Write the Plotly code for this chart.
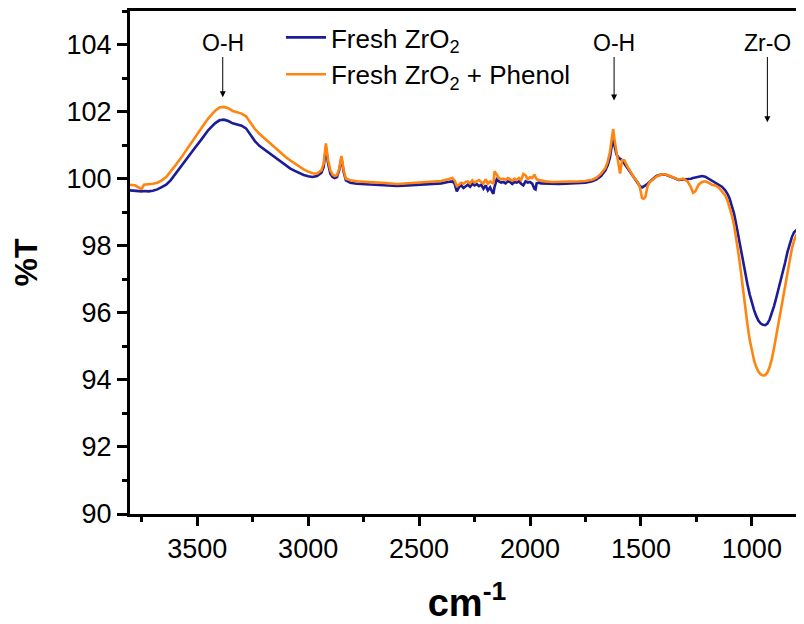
import plotly.graph_objects as go

wavenumber = [
    3803, 3780, 3760, 3750, 3740, 3720, 3700, 3680, 3660, 3640, 3620, 3600, 3570, 3540, 3510,
    3480, 3450, 3420, 3400, 3380, 3360, 3340, 3320, 3300, 3280, 3260, 3240, 3220, 3200, 3180,
    3160, 3140, 3120, 3100, 3080, 3060, 3040, 3020, 3000, 2980, 2960, 2940, 2930, 2920, 2910,
    2900, 2890, 2880, 2870, 2860, 2850, 2840, 2830, 2810, 2780, 2750, 2700, 2650, 2600, 2550,
    2500, 2450, 2400, 2370, 2350, 2340, 2330, 2320, 2310, 2300, 2290, 2280, 2270, 2260, 2250,
    2240, 2230, 2220, 2210, 2200, 2190, 2180, 2170, 2165, 2160, 2150, 2140, 2130, 2120, 2110,
    2100, 2090, 2080, 2070, 2060, 2050, 2040, 2030, 2020, 2010, 2000, 1990, 1980, 1975, 1970,
    1960, 1950, 1930, 1900, 1870, 1840, 1810, 1780, 1750, 1720, 1700, 1680, 1660, 1650, 1640,
    1630, 1625, 1620, 1610, 1600, 1594, 1585, 1575, 1560, 1545, 1530, 1515, 1505, 1495, 1488,
    1480, 1470, 1460, 1445, 1430, 1410, 1390, 1370, 1350, 1330, 1310, 1290, 1275, 1265, 1255,
    1240, 1225, 1210, 1195, 1180, 1165, 1150, 1135, 1120, 1110, 1100, 1090, 1080, 1070, 1060,
    1050, 1040, 1030, 1020, 1010, 1000, 990, 980, 970, 960, 950, 940, 930, 920, 910,
    900, 890, 880, 870, 860, 850, 840, 830, 820, 810, 800, 795, 790, 780, 770,
    765,
]

t_fresh = [
    99.65, 99.63, 99.62, 99.62, 99.63, 99.62, 99.64, 99.68, 99.75, 99.82, 99.95, 100.12, 100.38, 100.65, 100.92,
    101.18, 101.45, 101.65, 101.74, 101.76, 101.72, 101.65, 101.62, 101.58, 101.50, 101.32, 101.12, 100.98, 100.88, 100.78,
    100.68, 100.58, 100.48, 100.38, 100.30, 100.23, 100.16, 100.11, 100.07, 100.05, 100.08, 100.18, 100.35, 100.92, 100.45,
    100.15, 100.05, 100.02, 100.05, 100.25, 100.62, 100.20, 99.95, 99.88, 99.85, 99.84, 99.83, 99.80, 99.78, 99.80,
    99.82, 99.84, 99.86, 99.90, 99.92, 99.85, 99.62, 99.75, 99.80, 99.72, 99.78, 99.82, 99.76, 99.85, 99.80,
    99.84, 99.78, 99.82, 99.70, 99.80, 99.65, 99.74, 99.60, 99.55, 99.75, 99.98, 99.92, 99.88, 99.90, 99.86,
    99.92, 99.90, 99.84, 99.90, 99.88, 99.92, 99.85, 99.80, 99.92, 99.88, 99.90, 99.85, 99.70, 99.68, 99.86,
    99.88, 99.86, 99.85, 99.84, 99.84, 99.85, 99.86, 99.87, 99.88, 99.92, 99.98, 100.08, 100.25, 100.40, 100.62,
    101.05, 101.32, 101.00, 100.72, 100.62, 100.58, 100.55, 100.45, 100.30, 100.15, 100.00, 99.88, 99.78, 99.74, 99.76,
    99.80, 99.85, 99.92, 100.00, 100.08, 100.12, 100.12, 100.08, 100.02, 99.96, 99.97, 99.98, 100.00, 100.02, 100.04,
    100.06, 100.08, 100.06, 100.00, 99.92, 99.88, 99.82, 99.76, 99.65, 99.55, 99.40, 99.20, 98.95, 98.62, 98.25,
    97.85, 97.48, 97.15, 96.85, 96.55, 96.30, 96.08, 95.90, 95.76, 95.68, 95.64, 95.63, 95.68, 95.80, 95.98,
    96.20, 96.45, 96.70, 96.95, 97.22, 97.50, 97.80, 98.05, 98.25, 98.40, 98.46, 98.45, 98.42, 98.35, 98.28,
    98.24,
]

t_phenol = [
    99.82, 99.80, 99.72, 99.70, 99.82, 99.83, 99.85, 99.88, 99.95, 100.05, 100.20, 100.38, 100.65, 100.95, 101.25,
    101.52, 101.80, 102.02, 102.12, 102.14, 102.10, 102.02, 101.98, 101.94, 101.86, 101.68, 101.48, 101.34, 101.22, 101.10,
    101.00, 100.88, 100.76, 100.64, 100.54, 100.45, 100.36, 100.28, 100.21, 100.16, 100.15, 100.25, 100.45, 101.05, 100.55,
    100.25, 100.12, 100.08, 100.10, 100.30, 100.68, 100.25, 100.00, 99.95, 99.92, 99.91, 99.90, 99.87, 99.84, 99.86,
    99.88, 99.90, 99.93, 99.98, 100.02, 99.95, 99.78, 99.82, 99.88, 99.85, 99.90, 99.92, 99.86, 99.95, 99.88,
    99.92, 99.96, 99.90, 99.86, 99.98, 99.85, 99.92, 99.88, 99.85, 100.22, 100.12, 100.02, 99.98, 100.00, 99.96,
    100.02, 99.98, 99.94, 100.00, 99.96, 100.02, 99.96, 100.14, 100.10, 99.98, 100.05, 100.02, 100.12, 100.05, 99.98,
    99.96, 99.94, 99.92, 99.90, 99.90, 99.90, 99.91, 99.92, 99.93, 99.97, 100.03, 100.15, 100.32, 100.50, 100.78,
    101.30, 101.48, 101.20, 100.75, 100.40, 100.15, 100.55, 100.55, 100.35, 100.18, 100.02, 99.90, 99.75, 99.42, 99.40,
    99.45, 99.78, 99.90, 99.98, 100.06, 100.12, 100.13, 100.08, 100.02, 99.97, 100.00, 99.92, 99.75, 99.58, 99.62,
    99.82, 99.90, 99.92, 99.88, 99.82, 99.80, 99.74, 99.62, 99.50, 99.35, 99.15, 98.90, 98.60, 98.20, 97.75,
    97.25, 96.68, 96.15, 95.65, 95.20, 94.85, 94.58, 94.38, 94.24, 94.16, 94.13, 94.14, 94.22, 94.38, 94.62,
    94.95, 95.32, 95.70, 96.05, 96.45, 96.85, 97.25, 97.58, 97.90, 98.15, 98.32, 98.38, 98.36, 98.18, 97.95,
    97.85,
]

series_names = ["Fresh ZrO<sub>2</sub>", "Fresh ZrO<sub>2</sub> + Phenol"]
series_colors = ["#1c1c96", "#ff8410"]

band_labels = ["O-H", "O-H", "Zr-O"]
band_positions = [3385, 1621, 930]
band_heads = [102.43, 102.33, 101.68]
label_level = 104.06

x_ticks = [3500, 3000, 2500, 2000, 1500, 1000]
y_ticks = [90, 92, 94, 96, 98, 100, 102, 104]

FONT = "Liberation Sans"

fig = go.Figure()
for name, vals, col in zip(series_names, [t_fresh, t_phenol], series_colors):
    fig.add_trace(go.Scatter(x=wavenumber, y=vals, mode="lines", name=name,
                             line=dict(color=col, width=2.6)))

for lab, pos, head in zip(band_labels, band_positions, band_heads):
    fig.add_annotation(x=pos, y=head, ax=pos, ay=label_level, axref="x", ayref="y",
                       xref="x", yref="y", text=lab, showarrow=True,
                       arrowhead=2, arrowsize=1.2, arrowwidth=1, arrowcolor="black",
                       font=dict(family=FONT, size=23, color="black"), borderpad=1)

# the page body has an 8 px margin, so the figure is sized to fit the window
fig.update_layout(
    width=796, height=616,
    margin=dict(l=122, r=0, t=3, b=110),
    paper_bgcolor="white", plot_bgcolor="white",
    font=dict(family=FONT, color="black"),
    showlegend=True,
    legend=dict(x=0.224, y=0.994, xanchor="left", yanchor="top",
                font=dict(family=FONT, size=26, color="black"),
                bgcolor="rgba(0,0,0,0)", tracegroupgap=0, itemwidth=40),
    xaxis=dict(range=[3803, 765], tickvals=x_ticks, ticktext=[str(v) for v in x_ticks],
               showline=True, linewidth=3, linecolor="black", mirror=True,
               ticks="outside", ticklen=9, tickwidth=3, tickcolor="black",
               minor=dict(dtick=250, tick0=0, ticks="outside", ticklen=5, tickwidth=3, tickcolor="black"),
               showgrid=False, zeroline=False,
               tickfont=dict(family=FONT, size=27, color="black"),
               title=dict(text="<b>cm<sup>-1</sup></b>", font=dict(family=FONT, size=38, color="black"), standoff=30)),
    yaxis=dict(range=[90, 105], tickvals=y_ticks, ticktext=[str(v) for v in y_ticks],
               showline=True, linewidth=3, linecolor="black", mirror=False,
               ticks="outside", ticklen=10, tickwidth=3, tickcolor="black",
               minor=dict(dtick=1, tick0=0, ticks="outside", ticklen=5, tickwidth=3, tickcolor="black"),
               showgrid=False, zeroline=False,
               tickfont=dict(family=FONT, size=27, color="black"),
               title=dict(text="<b>%T</b>", font=dict(family=FONT, size=32, color="black"), standoff=22)),
)

fig.write_html("out.html")
